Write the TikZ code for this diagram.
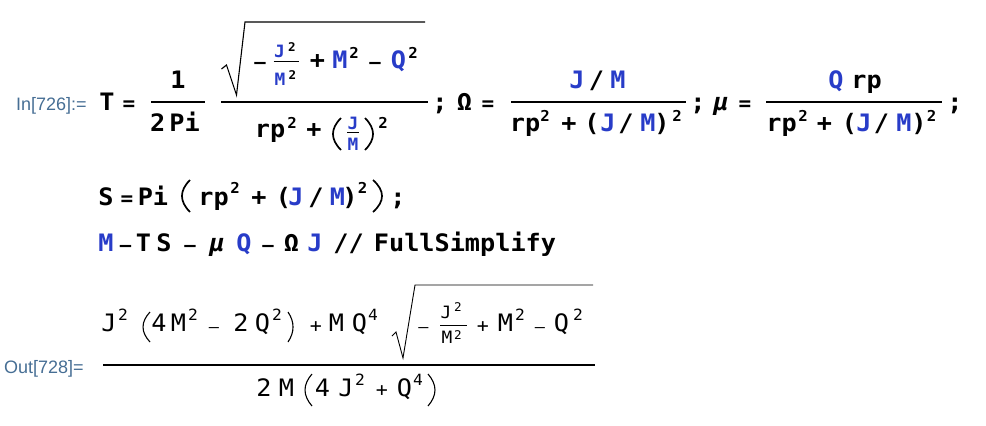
\documentclass[tikz,border=0pt]{standalone}
\usepackage{fontspec}
\usepackage{tikz}
\newfontfamily\mmfont[FakeStretch=1.05]{DejaVu Sans Mono}
\newfontfamily\lblfont{Liberation Sans}
\definecolor{symblue}{RGB}{40,60,200}
\definecolor{lblblue}{RGB}{70,110,148}
\tikzset{
  inp/.style={font=\fontsize{24}{24}\mmfont\bfseries, inner sep=0pt, anchor=base},
  outp/.style={font=\fontsize{24}{24}\mmfont, inner sep=0pt, anchor=base},
  supi/.style={font=\fontsize{15}{15}\mmfont\bfseries, inner sep=0pt, anchor=base},
  supo/.style={font=\fontsize{15.5}{15.5}\mmfont, inner sep=0pt, anchor=base},
  smi/.style={font=\fontsize{17}{17}\mmfont\bfseries, inner sep=0pt, anchor=base, text=symblue},
  smo/.style={font=\fontsize{17}{17}\mmfont, inner sep=0pt, anchor=base},
  smsupi/.style={font=\fontsize{12}{12}\mmfont\bfseries, inner sep=0pt, anchor=base},
  smsupo/.style={font=\fontsize{12}{12}\mmfont, inner sep=0pt, anchor=base},
  minin/.style={font=\fontsize{18}{18}\mmfont\bfseries, inner sep=0pt, anchor=base},
  eqin/.style={font=\fontsize{20}{20}\mmfont\bfseries, inner sep=0pt, anchor=base},
  minout/.style={font=\fontsize{16}{16}\mmfont, inner sep=0pt, anchor=base},
  opo/.style={font=\fontsize{19}{19}\mmfont, inner sep=0pt, anchor=base},
  sym/.style={text=symblue},
  lbl/.style={font=\fontsize{18}{18}\lblfont, text=lblblue, inner sep=0pt, anchor=base west},
  barin/.style={line width=1.8pt},
  barout/.style={line width=1.2pt},
  barsm/.style={line width=1.3pt},
  rad/.style={line width=1.1pt},
  parin/.style={line width=1.7pt},
  parout/.style={line width=1.1pt}
}
\begin{document}
\begin{tikzpicture}[x=1pt,y=-1pt]
\useasboundingbox (0,0) rectangle (986,426);
% In[726]
\node[lbl] (in1) at (16,110) {In[726]:=};
\node[inp] (t) at (107,110) {T};
\node[eqin] (eqt) at (129,110) {=};
\node[inp] (one) at (178,88) {1};
\node[inp] (twopi) at (175,131.5) {2\,Pi};
\draw[barin] (151,102)--(205,102);
\draw[rad] (221.5,69)--(226.5,65)--(236.5,95)--(245,22)--(425,22);
\node[minin] (mi1) at (260,68.5) {–};
\node[smi] (tj1) at (279.5,57) {J};
\node[smsupi] (tj1s) at (292,51) {2};
\draw[barsm] (273.5,61.5)--(299,61.5);
\node[smi] (tm1) at (280,85) {M};
\node[smsupi] (tm1s) at (292.5,79) {2};
\node[inp] (pl1) at (317.5,68) {+};
\node[inp,sym] (tm2) at (340,68) {M};
\node[supi] (tm2s) at (354,58) {2};
\node[minin] (mi2) at (375,68.5) {–};
\node[inp,sym] (tq1) at (398.5,68) {Q};
\node[supi] (tq1s) at (413,58) {2};
\draw[barin] (221,102)--(428,102);
\node[inp] (trp) at (270,137) {rp};
\node[supi] (trps) at (292,128) {2};
\node[inp] (pl2) at (314,137) {+};
\draw[parin] (341,118) .. controls (330.3,128.7) and (330.3,139.3) .. (341,150);
\node[smi] (tj2) at (353,129) {J};
\draw[barsm] (347,132.5)--(359,132.5);
\node[smi] (tm3) at (353,150) {M};
\draw[parin] (365,118) .. controls (375.7,128.7) and (375.7,139.3) .. (365,150);
\node[supi] (tpw) at (383,128) {2};
% Omega
\node[inp] (sc1) at (440,110) {;};
\node[inp] (om) at (464.5,110) {Ω};
\node[eqin] (eqo) at (488,110) {=};
\draw[barin] (511,102)--(686,102);
\node[inp,sym] (oj1) at (577,88) {J};
\node[inp] (osl1) at (596.5,88) {/};
\node[inp,sym] (om1) at (618,88) {M};
\node[inp] (orp) at (525,131.5) {rp};
\node[supi] (orps) at (545,121) {2};
\node[inp] (opl) at (569,131.5) {+};
\node[inp] (olp) at (592,131.5) {(};
\node[inp,sym] (oj2) at (608,131.5) {J};
\node[inp] (osl2) at (626,131.5) {/};
\node[inp,sym] (om2) at (648,131.5) {M};
\node[inp] (orp2) at (662,131.5) {)};
\node[supi] (opw) at (677,121) {2};
% mu
\node[inp] (sc2) at (698,110) {;};
\node[inp] (mu) at (721,110) {\itshape μ};
\node[eqin] (eqm) at (745,110) {=};
\draw[barin] (766,102)--(942,102);
\node[inp,sym] (mq1) at (836,88) {Q};
\node[inp] (mrp1) at (866.5,88) {rp};
\node[inp] (mrp) at (781.5,131.5) {rp};
\node[supi] (mrps) at (803,121) {2};
\node[inp] (mpl) at (824.5,131.5) {+};
\node[inp] (mlp) at (849.5,131.5) {(};
\node[inp,sym] (mj2) at (864,131.5) {J};
\node[inp] (msl2) at (881.5,131.5) {/};
\node[inp,sym] (mm2) at (904,131.5) {M};
\node[inp] (mrq) at (919,131.5) {)};
\node[supi] (mpw) at (931.5,121) {2};
\node[inp] (sc3) at (955,110) {;};
% S
\node[inp] (s) at (106,205) {S};
\node[eqin] (eqs) at (127,205) {=};
\node[inp] (spi) at (153,205) {Pi};
\draw[parin] (190,180) .. controls (179.3,190.7) and (179.3,201.3) .. (190,212);
\node[inp] (srp) at (213.5,205) {rp};
\node[supi] (srps) at (235,193) {2};
\node[inp] (spl) at (259,205) {+};
\node[inp] (slp) at (283.5,205) {(};
\node[inp,sym] (sj) at (296,205) {J};
\node[inp] (ssl) at (316,205) {/};
\node[inp,sym] (sm) at (337.5,205) {M};
\node[inp] (srq) at (350,205) {)};
\node[supi] (spw) at (362.5,193) {2};
\draw[parin] (373,180) .. controls (385,190.7) and (385,201.3) .. (373,212);
\node[inp] (sc4) at (398,205) {;};
% M - T S ...
\node[inp,sym] (fm) at (106,251) {M};
\node[minin] (fmi1) at (125.5,251.5) {–};
\node[inp] (ft) at (143.5,251) {T};
\node[inp] (fs) at (164,251) {S};
\node[minin] (fmi2) at (190,251.5) {–};
\node[inp] (fmu) at (217,251) {\itshape μ};
\node[inp,sym] (fq) at (244,251) {Q};
\node[minin] (fmi3) at (268,251.5) {–};
\node[inp] (fom) at (291.5,251) {Ω};
\node[inp,sym] (fj) at (315,251) {J};
\node[inp] (fsl) at (348.5,251) {//};
\node[inp] (fsimp) at (465,251) {FullSimplify};
% Out[728]
\node[lbl] (out1) at (4,373) {Out[728]=};
\node[outp] (nj) at (109,331.5) {J};
\node[supo] (njs) at (123,320) {2};
\draw[parout] (150,312) .. controls (140.7,322) and (140.7,332) .. (150,342);
\node[outp] (n4) at (159,331.5) {4};
\node[outp] (nm) at (178.5,331.5) {M};
\node[supo] (nms) at (193,320) {2};
\node[minout] (nmi1) at (214,332.5) {–};
\node[outp] (n2) at (241,331.5) {2};
\node[outp] (nq) at (262.5,331.5) {Q};
\node[supo] (nqs) at (277,320) {2};
\draw[parout] (288,312) .. controls (294.7,322) and (294.7,332) .. (288,342);
\node[opo] (npl1) at (316,332) {+};
\node[outp] (nm2) at (336.5,331.5) {M};
\node[outp] (nq2) at (359.5,331.5) {Q};
\node[supo] (nq2s) at (373,320) {4};
\draw[rad,line width=0.9pt] (392,336)--(396,332)--(403,358)--(415,285)--(593,285);
\node[minout] (nmi2) at (423.5,332.5) {–};
\node[smo] (nj2) at (446,318) {J};
\node[smsupo] (nj2s) at (458,311) {2};
\draw[barout,line width=1pt] (440,325)--(467,325);
\node[smo] (nm3) at (447,343) {M};
\node[smsupo] (nm3s) at (458,339) {2};
\node[opo] (npl2) at (483,332) {+};
\node[outp] (nm4) at (505.5,331.5) {M};
\node[supo] (nm4s) at (520,320) {2};
\node[minout] (nmi3) at (540,332.5) {–};
\node[outp] (nq3) at (561.5,331.5) {Q};
\node[supo] (nq3s) at (578,320) {2};
\draw[barout] (103,365)--(595,365);
\node[outp] (d2) at (264,396) {2};
\node[outp] (dm) at (286.5,396) {M};
\draw[parout] (312,374) .. controls (302.7,384.7) and (302.7,395.3) .. (312,406);
\node[outp] (d4) at (322.5,396) {4};
\node[outp] (dj) at (346,396) {J};
\node[supo] (djs) at (360,385) {2};
\node[opo] (dpl) at (382,396.5) {+};
\node[outp] (dq) at (404.5,396) {Q};
\node[supo] (dqs) at (418,385) {4};
\draw[parout] (428,374) .. controls (437.3,384.7) and (437.3,395.3) .. (428,406);
\end{tikzpicture}
\end{document}
